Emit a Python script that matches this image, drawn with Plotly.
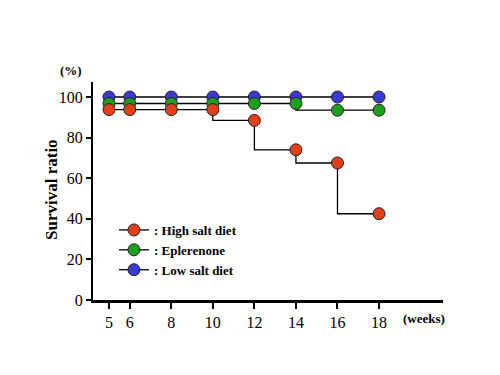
import plotly.graph_objects as go

weeks = [5, 6, 8, 10, 12, 14, 16, 18]
high_salt = [93.8, 93.8, 93.8, 93.8, 88.5, 74.0, 67.5, 42.5]
eplerenone = [96.8, 96.8, 96.8, 96.8, 96.8, 96.8, 93.5, 93.5]
low_salt = [100, 100, 100, 100, 100, 100, 100, 100]

series = [
    (": High salt diet", high_salt, "#E2401B"),
    (": Eplerenone", eplerenone, "#1E9E1E"),
    (": Low salt diet", low_salt, "#3A3AD2"),
]
x_ticks = [5, 6, 8, 10, 12, 14, 16, 18]
y_ticks = [0, 20, 40, 60, 80, 100]

serif = "Liberation Serif, Times New Roman, serif"
fig = go.Figure()
for name, vals, col in reversed(series):
    fig.add_trace(go.Scatter(
        x=weeks, y=vals, name="<b>" + name + "</b>", mode="lines+markers",
        line=dict(color="black", width=1.3, shape="vh"),
        marker=dict(size=12, color=col, line=dict(color="#222", width=1)),
    ))

fig.update_layout(
    width=500, height=375,
    margin=dict(l=85, r=65, t=74, b=83),
    paper_bgcolor="white", plot_bgcolor="white",
    showlegend=True,
    legend=dict(x=0.06, y=0.39, xanchor="left", yanchor="top",
                traceorder="reversed",
                font=dict(family=serif, size=13, color="black"),
                bgcolor="rgba(0,0,0,0)", tracegroupgap=0, itemwidth=30),
    xaxis=dict(range=[4.23, 21.08], tickvals=x_ticks, ticktext=[str(t) for t in x_ticks],
               showline=True, linecolor="black", linewidth=2.5, ticks="outside",
               ticklen=6, tickwidth=2, tickcolor="black", showgrid=False, zeroline=False,
               tickfont=dict(family=serif, size=16, color="black")),
    yaxis=dict(range=[0, 107.4], tickvals=y_ticks,
               showline=True, linecolor="black", linewidth=2, ticks="outside",
               ticklen=5, tickwidth=2, tickcolor="black", showgrid=False, zeroline=False,
               tickfont=dict(family=serif, size=16, color="black")),
    annotations=[
        dict(text="<b>(weeks)</b>", xref="paper", yref="paper", x=0.946, y=-0.087,
             xanchor="center", yanchor="middle",
             showarrow=False, font=dict(family=serif, size=13, color="black")),
        dict(text="<b>(%)</b>", xref="paper", yref="paper", x=-0.063, y=1.055,
             xanchor="center", yanchor="middle",
             showarrow=False, font=dict(family=serif, size=13, color="black")),
        dict(text="<b>Survival ratio</b>", xref="paper", yref="paper", x=-0.117, y=0.505,
             xanchor="center", yanchor="middle",
             textangle=-90, showarrow=False,
             font=dict(family=serif, size=17, color="black")),
    ],
)
fig.write_html("out.html")
